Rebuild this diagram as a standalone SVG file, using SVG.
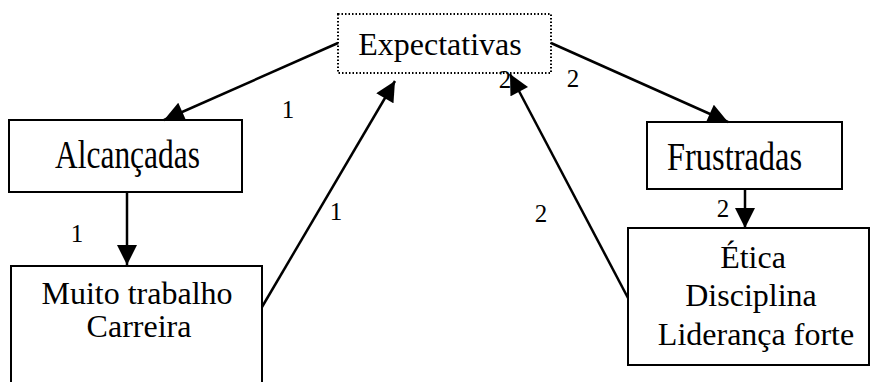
<svg xmlns="http://www.w3.org/2000/svg" width="871" height="382" viewBox="0 0 871 382">
<style>
.box{fill:#fff;stroke:#000;stroke-width:2}
.dot{fill:#fff;stroke:#000;stroke-width:2;stroke-dasharray:1.5 2}
text{font-family:"Times New Roman","Liberation Serif","DejaVu Serif",serif;fill:#000;text-anchor:middle}
.t{font-size:32px}
.tb{font-size:40px}
.n{font-size:25px}
.c{fill:none;stroke:#000;stroke-width:2.5}
</style>
<defs>
<marker id="ah" viewBox="0 0 20 20" refX="20" refY="10" markerWidth="21" markerHeight="20" markerUnits="userSpaceOnUse" orient="auto">
<path d="M0,0 L20,10 L0,20 z" fill="#000"/>
</marker>
</defs>
<g id="expectativas">
<rect class="dot" x="338" y="14" width="213" height="59"/>
<text class="t" x="440" y="55" font-family="Liberation Serif, serif">Expectativas</text>
</g>
<g id="alcancadas">
<rect class="box" x="9" y="120" width="233" height="72"/>
<text class="tb" x="127.5" y="168" textLength="145" lengthAdjust="spacingAndGlyphs" font-family="Liberation Serif, serif">Alcançadas</text>
</g>
<g id="frustradas">
<rect class="box" x="647" y="122" width="195" height="67"/>
<text class="tb" x="734.5" y="170" textLength="135" lengthAdjust="spacingAndGlyphs" font-family="Liberation Serif, serif">Frustradas</text>
</g>
<g id="muito-trabalho">
<rect class="box" x="11" y="266" width="251" height="130"/>
<text class="t" x="137" y="304" font-size="31" font-family="Liberation Serif, serif">Muito trabalho</text>
<text class="t" x="139" y="337" font-size="31" font-family="Liberation Serif, serif">Carreira</text>
</g>
<g id="etica">
<rect class="box" x="628" y="228" width="241" height="137"/>
<text class="t" x="753" y="268" font-family="Liberation Serif, serif">Ética</text>
<text class="t" x="751" y="306" font-family="Liberation Serif, serif">Disciplina</text>
<text class="t" x="756" y="345" font-family="Liberation Serif, serif">Liderança forte</text>
</g>
<g id="labels">
<text class="n" x="288" y="118">1</text>
<text class="n" x="77" y="242">1</text>
<text class="n" x="336" y="220">1</text>
<text class="n" x="541" y="222">2</text>
<text class="n" x="505" y="88">2</text>
<text class="n" x="573" y="87">2</text>
<text class="n" x="723" y="217">2</text>
</g>
<g id="connectors">
<line class="c" x1="338" y1="43" x2="164" y2="120" marker-end="url(#ah)"/>
<line class="c" x1="551" y1="43" x2="728" y2="122" marker-end="url(#ah)"/>
<line class="c" x1="127" y1="192" x2="127" y2="265" marker-end="url(#ah)"/>
<line class="c" x1="745" y1="189" x2="745" y2="228" marker-end="url(#ah)"/>
<line class="c" x1="262" y1="307" x2="395" y2="81" marker-end="url(#ah)"/>
<line class="c" x1="628" y1="298" x2="510" y2="74" marker-end="url(#ah)"/>
</g>
</svg>
